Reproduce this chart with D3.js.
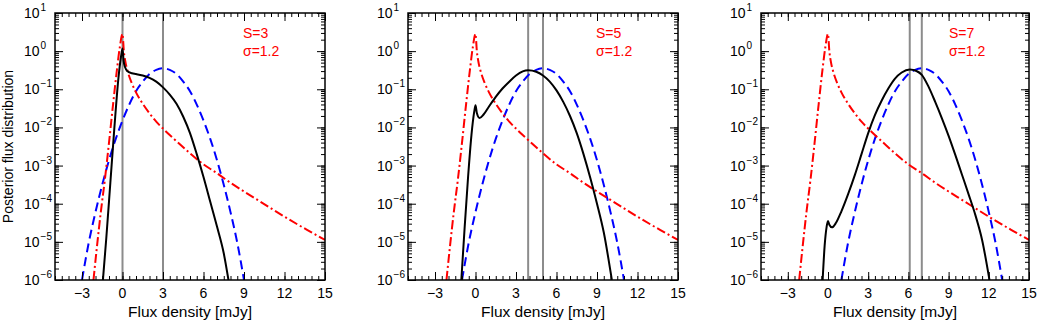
<!DOCTYPE html>
<html>
<head>
<meta charset="utf-8">
<script src="https://cdn.jsdelivr.net/npm/d3@7"></script>
<style>
  body { margin: 0; background: #fff; }
  text { font-family: "Liberation Sans", Arial, Helvetica, sans-serif; }
</style>
</head>
<body>
<script>
// Tick labels and panel parameters
const xTicks = [-3, 0, 3, 6, 9, 12, 15];
const yExps = [-6, -5, -4, -3, -2, -1, 0, 1];
const sValues = [3, 5, 7];
const sigmaLabel = '1.2';
const modeValues = [0, 3.9, 6.1];

// Curves as [flux, log10(density)]
// prior (red dash-dot), same in every panel
const prior = [[-2.15,-6.0],[-1.9,-5.15],[-1.6,-4.2],[-1.3,-3.35],[-1.0,-2.4],[-0.7,-1.4],[-0.4,-0.45],
  [-0.2,0.1],[0,0.45],[0.1,0.0],[0.2,-0.25],[0.4,-0.55],[0.7,-0.85],[1.0,-1.08],[1.5,-1.38],[2.0,-1.63],
  [2.5,-1.85],[3.0,-2.03],[3.5,-2.2],[4.0,-2.36],[5.0,-2.68],[6.0,-2.97],[7.0,-3.2],[8.0,-3.45],
  [9.0,-3.68],[10.0,-3.9],[11.0,-4.12],[12.0,-4.34],[13.0,-4.55],[14.0,-4.75],[15.0,-4.95]];

// likelihood (blue dashed)
const like1 = [[-3.0,-6.0],[-2.5,-5.02],[-2.0,-4.22],[-1.5,-3.5],[-1.0,-2.86],[-0.5,-2.3],[0,-1.82],[0.5,-1.4],
  [1.0,-1.05],[1.5,-0.8],[2.0,-0.6],[2.5,-0.49],[3.0,-0.45],[3.5,-0.49],[4.0,-0.6],[4.5,-0.8],[5.0,-1.05],
  [5.5,-1.4],[6.0,-1.82],[6.5,-2.3],[7.0,-2.86],[7.5,-3.5],[8.0,-4.22],[8.5,-5.02],[9.0,-6.0]];
const like2 = [[-1.0,-6.0],[-0.5,-5.02],[0,-4.22],[0.5,-3.5],[1.0,-2.86],[1.5,-2.3],[2.0,-1.82],[2.5,-1.4],
  [3.0,-1.05],[3.5,-0.8],[4.0,-0.6],[4.5,-0.49],[5.0,-0.45],[5.5,-0.49],[6.0,-0.6],[6.5,-0.8],[7.0,-1.05],
  [7.5,-1.4],[8.0,-1.82],[8.5,-2.3],[9.0,-2.86],[9.5,-3.5],[10.0,-4.22],[10.5,-5.02],[11.0,-6.0]];
const like3 = [[1.0,-6.0],[1.5,-5.02],[2.0,-4.22],[2.5,-3.5],[3.0,-2.86],[3.5,-2.3],[4.0,-1.82],[4.5,-1.4],
  [5.0,-1.05],[5.5,-0.8],[6.0,-0.6],[6.5,-0.49],[7.0,-0.45],[7.5,-0.49],[8.0,-0.6],[8.5,-0.8],[9.0,-1.05],
  [9.5,-1.4],[10.0,-1.82],[10.5,-2.3],[11.0,-2.86],[11.5,-3.5],[12.0,-4.22],[12.5,-5.02],[13.0,-6.0]];

// posterior (black solid)
const post1 = [[-1.45,-6.0],[-1.2,-4.9],[-0.9,-3.45],[-0.6,-2.0],[-0.3,-0.7],[-0.1,-0.12],[0,0.07],[0.08,-0.25],
  [0.2,-0.43],[0.35,-0.52],[0.7,-0.58],[1.0,-0.6],[1.5,-0.64],[2.0,-0.7],[2.5,-0.8],[3.0,-0.95],[3.5,-1.14],
  [4.0,-1.38],[4.5,-1.72],[5.0,-2.15],[5.5,-2.7],[6.0,-3.3],[6.5,-3.95],[7.0,-4.6],[7.5,-5.3],[7.85,-6.0]];
const post2 = [[-1.05,-6.0],[-0.8,-4.6],[-0.55,-3.3],[-0.3,-2.2],[-0.1,-1.6],[0,-1.42],[0.1,-1.62],[0.3,-1.75],
  [0.6,-1.66],[1.0,-1.45],[1.5,-1.2],[2.0,-0.98],[2.5,-0.8],[3.0,-0.64],[3.5,-0.53],[3.9,-0.5],[4.5,-0.54],
  [5.0,-0.64],[5.5,-0.8],[6.0,-1.03],[6.5,-1.33],[7.0,-1.7],[7.5,-2.15],[8.0,-2.7],[8.5,-3.32],[9.0,-4.0],
  [9.5,-4.75],[10.1,-6.0]];
const post3 = [[-0.4,-6.0],[-0.25,-5.1],[-0.1,-4.6],[0,-4.45],[0.1,-4.55],[0.3,-4.62],[0.6,-4.5],[1.0,-4.2],
  [1.5,-3.75],[2.0,-3.25],[2.5,-2.7],[3.0,-2.15],[3.5,-1.68],[4.0,-1.3],[4.5,-0.98],[5.0,-0.72],[5.5,-0.56],
  [6.1,-0.48],[6.6,-0.52],[7.0,-0.62],[7.5,-0.93],[8.0,-1.33],[8.5,-1.76],[9.0,-2.22],[9.5,-2.72],[10.0,-3.24],
  [10.5,-3.76],[11.0,-4.3],[11.5,-4.95],[12.05,-6.0]];

const likes = [like1, like2, like3];
const posts = [post1, post2, post3];

// Layout
const width = 1038;
const height = 323;
const plotTop = 13;
const plotBottom = 280;
const panelLeft = [55, 408, 761];
const panelWidth = [270, 270, 268];

const svg = d3.select('body')
  .append('svg')
  .attr('width', width)
  .attr('height', height);

const y = d3.scaleLog().domain([1e-6, 10]).range([plotBottom, plotTop]);

const minorX = d3.range(-5, 15.001, 0.5);
const minorY = y.ticks();
const fmt = v => (v < 0 ? '\u2212' + Math.abs(v) : String(v));

sValues.forEach((s, i) => {
  const L = panelLeft[i];
  const W = panelWidth[i];
  const x = d3.scaleLinear().domain([-5, 15]).range([L, L + W]);
  const g = svg.append('g');

  g.append('clipPath').attr('id', 'clip' + i)
    .append('rect')
    .attr('x', L).attr('y', plotTop)
    .attr('width', W).attr('height', plotBottom - plotTop);

  const plot = g.append('g').attr('clip-path', `url(#clip${i})`);

  const line = d3.line()
    .x(d => x(d[0]))
    .y(d => y(Math.pow(10, d[1])))
    .curve(d3.curveMonotoneX);

  // grey markers: posterior mode and true flux
  plot.selectAll('.vline')
    .data([modeValues[i], s])
    .enter()
    .append('line')
    .attr('class', 'vline')
    .attr('x1', d => x(d)).attr('x2', d => x(d))
    .attr('y1', plotTop).attr('y2', plotBottom)
    .attr('stroke', '#8c8c8c')
    .attr('stroke-width', 2);

  plot.append('path')
    .datum(likes[i])
    .attr('d', line)
    .attr('fill', 'none')
    .attr('stroke', '#0000ff')
    .attr('stroke-width', 2)
    .attr('stroke-dasharray', '9,5');

  plot.append('path')
    .datum(prior)
    .attr('d', line)
    .attr('fill', 'none')
    .attr('stroke', '#ff0000')
    .attr('stroke-width', 2)
    .attr('stroke-dasharray', '9,3,2,3');

  plot.append('path')
    .datum(posts[i])
    .attr('d', line)
    .attr('fill', 'none')
    .attr('stroke', '#000')
    .attr('stroke-width', 2);

  // ticks on all four sides, pointing inward
  const tickStyle = sel => {
    sel.select('.domain').remove();
    sel.selectAll('line').attr('stroke', '#000').attr('stroke-width', 1);
  };
  g.append('g').attr('transform', `translate(0,${plotBottom})`)
    .call(d3.axisBottom(x).tickValues(minorX).tickSize(-4).tickFormat('')).call(tickStyle);
  g.append('g').attr('transform', `translate(0,${plotBottom})`)
    .call(d3.axisBottom(x).tickValues(xTicks).tickSize(-8).tickFormat('')).call(tickStyle);
  g.append('g').attr('transform', `translate(0,${plotTop})`)
    .call(d3.axisTop(x).tickValues(minorX).tickSize(-4).tickFormat('')).call(tickStyle);
  g.append('g').attr('transform', `translate(0,${plotTop})`)
    .call(d3.axisTop(x).tickValues(xTicks).tickSize(-8).tickFormat('')).call(tickStyle);
  g.append('g').attr('transform', `translate(${L},0)`)
    .call(d3.axisLeft(y).tickValues(minorY).tickSize(-4).tickFormat('')).call(tickStyle);
  g.append('g').attr('transform', `translate(${L},0)`)
    .call(d3.axisLeft(y).tickValues(yExps.map(e => Math.pow(10, e))).tickSize(-8).tickFormat('')).call(tickStyle);
  g.append('g').attr('transform', `translate(${L + W},0)`)
    .call(d3.axisRight(y).tickValues(minorY).tickSize(-4).tickFormat('')).call(tickStyle);
  g.append('g').attr('transform', `translate(${L + W},0)`)
    .call(d3.axisRight(y).tickValues(yExps.map(e => Math.pow(10, e))).tickSize(-8).tickFormat('')).call(tickStyle);

  g.append('rect')
    .attr('x', L).attr('y', plotTop)
    .attr('width', W).attr('height', plotBottom - plotTop)
    .attr('fill', 'none')
    .attr('stroke', '#000')
    .attr('stroke-width', 1.5);

  // x tick labels
  g.selectAll('.xlab')
    .data(xTicks)
    .enter()
    .append('text')
    .attr('class', 'xlab')
    .attr('x', d => x(d))
    .attr('y', plotBottom + 18)
    .attr('text-anchor', 'middle')
    .attr('font-size', 14)
    .text(fmt);

  // y tick labels 10^n
  const ylab = g.selectAll('.ylab')
    .data(yExps)
    .enter()
    .append('text')
    .attr('class', 'ylab')
    .attr('x', L - 31)
    .attr('y', d => y(Math.pow(10, d)) + 5)
    .attr('font-size', 14);
  ylab.append('tspan').text('10');
  ylab.append('tspan')
    .attr('dy', -7)
    .attr('dx', 1)
    .attr('font-size', 10)
    .text(fmt);

  g.append('text')
    .attr('x', L + W / 2)
    .attr('y', 317)
    .attr('text-anchor', 'middle')
    .attr('font-size', 15.5)
    .text('Flux density [mJy]');

  // legend
  g.append('text')
    .attr('x', L + 188).attr('y', 38)
    .attr('font-size', 14).attr('fill', '#ff0000')
    .text('S=' + s);
  g.append('text')
    .attr('x', L + 188).attr('y', 56)
    .attr('font-size', 14).attr('fill', '#ff0000')
    .text('\u03c3=' + sigmaLabel);
});

svg.append('text')
  .attr('transform', `translate(13,${(plotTop + plotBottom) / 2}) rotate(-90)`)
  .attr('text-anchor', 'middle')
  .attr('font-size', 14)
  .text('Posterior flux distribution');
</script>
</body>
</html>
